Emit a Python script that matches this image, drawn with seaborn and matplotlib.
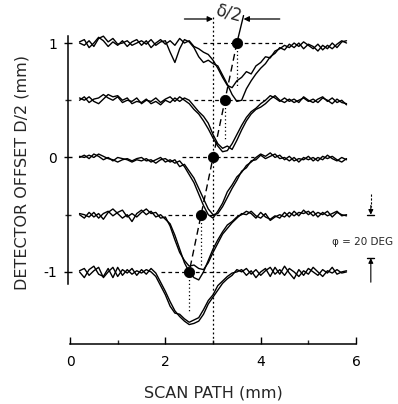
import numpy as np
import pandas as pd
import seaborn as sns
import matplotlib
matplotlib.use("Agg")
import matplotlib.pyplot as plt

# scan positions (mm), shared by all traces
scan_x = np.round(np.arange(0.2, 5.85, 0.1), 2)

offsets = [1.0, 0.5, 0.0, -0.5, -1.0]

# detector signal relative to each baseline (mm), two traces per offset
top_a = [0.01, 0.03, -0.04, 0.00, 0.05, 0.02, -0.03, 0.01, -0.02, 0.02,
         -0.03, 0.01, 0.03, -0.02, 0.02, -0.04, 0.00, 0.03, -0.01, 0.02,
         -0.02, 0.04, 0.00, 0.02, -0.03, -0.05, -0.08, -0.10, -0.15, -0.22,
         -0.30, -0.37, -0.39, -0.33, -0.30, -0.25, -0.27, -0.20, -0.17, -0.12,
         -0.13, -0.07, -0.05, -0.02, -0.04, 0.00, -0.03, 0.01, -0.02, -0.05,
         -0.01, -0.06, -0.02, -0.05, -0.01, 0.02, 0.00]
top_b = [0.00, -0.02, 0.02, -0.03, 0.04, 0.06, 0.01, 0.04, -0.01, 0.00,
         0.02, -0.02, 0.00, 0.02, -0.01, 0.03, -0.02, 0.01, 0.02, -0.08,
         -0.17, -0.05, 0.03, 0.01, -0.04, -0.12, -0.17, -0.15, -0.18, -0.20,
         -0.28, -0.36, -0.45, -0.51, -0.50, -0.40, -0.33, -0.27, -0.22, -0.18,
         -0.12, -0.09, -0.04, -0.06, -0.01, -0.04, 0.00, -0.05, -0.01, -0.03,
         -0.07, -0.02, -0.05, 0.00, -0.04, 0.01, 0.02]
half_a = [0.02, 0.00, 0.03, -0.01, -0.03, 0.01, 0.05, 0.03, 0.04, 0.00,
          0.02, -0.03, -0.01, -0.02, 0.01, -0.03, -0.01, -0.04, 0.00, -0.02,
          0.02, -0.01, 0.02, 0.00, -0.05, -0.10, -0.14, -0.20, -0.30, -0.38,
          -0.42, -0.40, -0.43, -0.35, -0.26, -0.18, -0.12, -0.08, -0.06, -0.03,
          0.01, 0.04, 0.00, -0.02, 0.01, -0.02, 0.00, 0.02, -0.01, 0.01,
          -0.02, 0.02, 0.00, -0.03, 0.01, -0.02, -0.03]
half_b = [0.00, 0.03, -0.02, 0.01, 0.02, 0.05, 0.02, 0.00, 0.03, -0.02,
          0.00, -0.01, 0.02, -0.03, 0.00, -0.01, 0.02, -0.02, 0.01, 0.03,
          -0.01, 0.03, 0.00, -0.03, -0.08, -0.12, -0.18, -0.25, -0.33, -0.40,
          -0.45, -0.44, -0.38, -0.30, -0.22, -0.15, -0.10, -0.07, -0.03, 0.00,
          0.04, 0.02, -0.01, 0.02, -0.01, 0.01, -0.02, 0.03, 0.00, -0.02,
          0.01, 0.03, -0.01, 0.02, -0.02, 0.00, -0.04]
zero_a = [0.00, 0.02, -0.01, 0.03, 0.01, -0.02, 0.00, -0.03, 0.00, -0.01,
          -0.02, -0.04, -0.02, -0.03, -0.01, -0.04, -0.02, 0.00, -0.04, -0.02,
          -0.05, -0.03, -0.08, -0.15, -0.22, -0.32, -0.42, -0.50, -0.53, -0.47,
          -0.40, -0.30, -0.24, -0.17, -0.13, -0.07, -0.04, 0.00, 0.03, 0.01,
          0.04, 0.00, 0.02, -0.02, 0.01, -0.03, -0.01, -0.02, 0.01, -0.03,
          0.00, -0.02, 0.02, -0.01, -0.03, 0.00, -0.02]
zero_b = [0.01, 0.00, 0.02, 0.00, 0.03, 0.01, -0.01, -0.02, -0.04, -0.02,
          -0.01, -0.03, -0.01, 0.00, -0.03, -0.02, -0.05, -0.02, -0.01, -0.04,
          -0.02, -0.08, -0.06, -0.12, -0.18, -0.27, -0.36, -0.45, -0.50, -0.49,
          -0.43, -0.35, -0.27, -0.20, -0.12, -0.09, -0.03, -0.02, 0.02, -0.01,
          0.01, 0.03, -0.01, 0.00, -0.03, 0.00, -0.04, 0.00, -0.02, 0.00,
          -0.03, 0.01, -0.01, 0.01, -0.02, -0.04, -0.01]
mhalf_a = [0.00, -0.03, 0.02, -0.02, 0.01, -0.04, 0.02, 0.05, 0.01, -0.03,
           0.00, -0.06, 0.01, 0.04, 0.00, 0.03, -0.02, 0.00, -0.04, -0.08,
           -0.18, -0.30, -0.42, -0.50, -0.55, -0.57, -0.50, -0.40, -0.30, -0.22,
           -0.15, -0.09, -0.06, -0.02, 0.00, 0.03, 0.01, -0.03, 0.02, -0.02,
           -0.04, -0.01, -0.03, 0.02, -0.02, 0.03, -0.01, 0.04, 0.00, 0.03,
           -0.02, 0.02, -0.01, 0.01, 0.03, -0.01, 0.00]
mhalf_b = [0.01, 0.00, -0.02, 0.02, -0.03, 0.01, 0.03, -0.01, 0.02, 0.04,
           -0.02, 0.01, -0.02, 0.02, 0.05, 0.01, 0.02, -0.03, -0.02, -0.10,
           -0.22, -0.33, -0.40, -0.45, -0.44, -0.47, -0.48, -0.42, -0.33, -0.25,
           -0.17, -0.12, -0.07, -0.03, 0.01, 0.00, 0.03, -0.01, -0.03, 0.01,
           -0.05, -0.02, 0.00, -0.02, 0.02, -0.01, 0.02, 0.01, 0.03, -0.01,
           0.02, 0.00, 0.03, -0.02, 0.02, 0.00, -0.01]
mone_a = [0.00, -0.05, 0.02, 0.05, -0.02, -0.04, 0.03, -0.05, 0.04, -0.03,
          0.02, -0.02, 0.01, -0.01, 0.02, 0.00, -0.04, -0.12, -0.20, -0.30,
          -0.36, -0.37, -0.41, -0.44, -0.42, -0.40, -0.33, -0.25, -0.20, -0.12,
          -0.08, -0.04, -0.01, 0.00, 0.02, -0.03, 0.01, -0.05, 0.00, 0.03,
          -0.04, 0.04, -0.02, 0.05, -0.01, -0.06, 0.02, -0.03, 0.03, 0.00,
          -0.03, 0.02, -0.01, 0.04, -0.02, 0.00, 0.01]
mone_b = [0.01, 0.03, -0.03, 0.01, 0.04, -0.05, 0.00, 0.04, -0.04, 0.02,
          -0.01, 0.03, -0.03, 0.02, -0.02, 0.03, -0.01, -0.09, -0.17, -0.26,
          -0.34, -0.39, -0.43, -0.46, -0.45, -0.43, -0.37, -0.28, -0.22, -0.16,
          -0.10, -0.06, -0.03, 0.02, 0.00, 0.03, -0.02, 0.02, -0.03, 0.01,
          0.04, -0.02, 0.02, -0.03, 0.03, 0.00, -0.04, 0.01, -0.02, 0.04,
          0.00, -0.04, 0.01, -0.01, 0.02, -0.01, 0.00]

traces = [(top_a, top_b), (half_a, half_b), (zero_a, zero_b),
          (mhalf_a, mhalf_b), (mone_a, mone_b)]

# half-depth marker positions (mm) and construction line extents
marker_x = [3.5, 3.25, 3.0, 2.75, 2.5]
hline_left = [2.8, 2.6, 2.35, 2.05, 1.9]
hline_right = [4.5, 4.1, 3.85, 3.55, 3.3]
vdrop_end = [0.62, 0.14, 0.0, -0.95, -1.36]

rows = []
for off, pair in zip(offsets, traces):
    for name, sig in zip(["a", "b"], pair):
        for xv, sv in zip(scan_x, sig):
            rows.append({"x": xv, "y": off + sv, "trace": f"{off}_{name}"})
df = pd.DataFrame(rows)

sns.set_theme(style="ticks")
plt.rcParams["font.family"] = ["DejaVu Sans"]

fig = plt.figure(figsize=(3.98, 4.04), dpi=100)
ax = fig.add_axes([60 / 398, 60 / 404, 338 / 398, 344 / 404])

for key, g in df.groupby("trace", sort=False):
    sns.lineplot(data=g, x="x", y="y", color="black", lw=1.0,
                 estimator=None, sort=False, ax=ax)

# construction lines
for off, mx, l, r, ve in zip(offsets, marker_x, hline_left, hline_right, vdrop_end):
    ax.plot([l, r], [off, off], color="black", lw=0.9, ls=(0, (3, 2.5)))
    if ve != 0.0:
        ax.plot([mx, mx], [off, ve], color="black", lw=0.9, ls=(0, (1, 2)))
ax.plot([3.0, 3.0], [1.23, -1.63], color="black", lw=0.9, ls=(0, (1.5, 2)))
ax.plot([marker_x[0], marker_x[-1]], [offsets[0], offsets[-1]],
        color="black", lw=1.0, ls=(0, (5, 3)))
ax.plot([3.5, 3.64], [1.0, 1.24], color="black", lw=1.0)

sns.scatterplot(x=marker_x, y=offsets, color="black", s=55, zorder=5,
                edgecolor="black", ax=ax)

# delta/2 annotation
ax.annotate("", xy=(3.0, 1.21), xytext=(2.4, 1.21),
            arrowprops=dict(arrowstyle="-|>", color="black", lw=0.9,
                            mutation_scale=8, shrinkA=0, shrinkB=0))
ax.annotate("", xy=(3.64, 1.21), xytext=(4.4, 1.21),
            arrowprops=dict(arrowstyle="-|>", color="black", lw=0.9,
                            mutation_scale=8, shrinkA=0, shrinkB=0))
ax.text(3.33, 1.26, "δ/2", fontsize=12, ha="center", va="center", rotation=-15)

# phi annotation
ax.plot([6.31, 6.31], [-0.32, -0.43], color="black", lw=0.8, ls=(0, (2, 1.5)),
        clip_on=False)
ax.annotate("", xy=(6.31, -0.5), xytext=(6.31, -0.42),
            arrowprops=dict(arrowstyle="-|>", color="black", lw=0.8,
                            mutation_scale=7, shrinkA=0, shrinkB=0),
            annotation_clip=False)
ax.plot([6.24, 6.38], [-0.5, -0.5], color="black", lw=1.0, clip_on=False)
ax.annotate("", xy=(6.31, -0.88), xytext=(6.31, -1.09),
            arrowprops=dict(arrowstyle="-|>", color="black", lw=0.8,
                            mutation_scale=7, shrinkA=0, shrinkB=0),
            annotation_clip=False)
ax.plot([6.24, 6.38], [-0.88, -0.88], color="black", lw=1.0, clip_on=False)
ax.text(6.14, -0.74, "φ = 20 DEG", fontsize=7.5, ha="center", va="center",
        clip_on=False)

ax.set_xlim(-0.21, 6.88)
ax.set_ylim(-1.63, 1.376)
ax.spines["right"].set_visible(False)
ax.spines["top"].set_visible(False)
ax.spines["left"].set_position(("data", -0.04))
ax.spines["left"].set_bounds(-1.11, 1.06)
ax.spines["bottom"].set_bounds(0, 6)
for s in ["left", "bottom"]:
    ax.spines[s].set_linewidth(1.1)
    ax.spines[s].set_color("black")

ax.set_xticks([0, 2, 4, 6])
ax.set_xticks([1, 3, 5], minor=True)
ax.set_yticks([-1, 0, 1])
ax.set_yticks([-0.5, 0.5], minor=True)
ax.set_yticklabels(["-1", "0", "1"])
ax.tick_params(axis="x", which="major", direction="in", length=5, width=1,
               pad=8, labelsize=10, colors="black")
ax.tick_params(axis="x", which="minor", direction="in", length=3, width=1)
ax.tick_params(axis="y", which="major", direction="inout", length=6, width=1,
               pad=5, labelsize=10, colors="black")
ax.tick_params(axis="y", which="minor", direction="inout", length=4, width=1)

ax.set_xlabel("")
ax.set_ylabel("")
fig.text(213 / 398, 1 - 393 / 404, "SCAN PATH (mm)", fontsize=11.5,
         ha="center", va="center")
fig.text(22 / 398, 1 - 172 / 404, "DETECTOR OFFSET D/2 (mm)", fontsize=11.5,
         ha="center", va="center", rotation=90)

fig.savefig("out.png", dpi=100)
